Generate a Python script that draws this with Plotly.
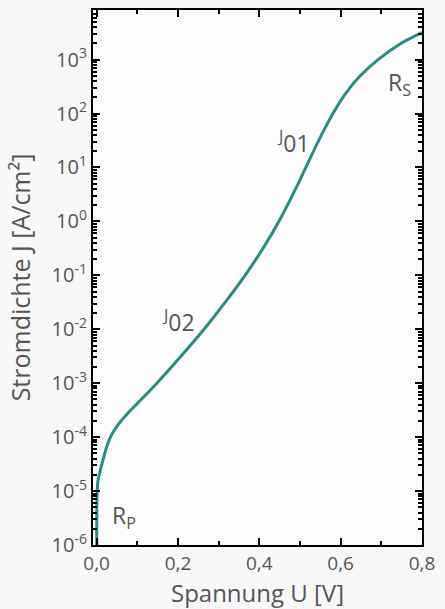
import plotly.graph_objects as go

# Curve (voltage V, log10 current density)
voltage = [0.0001, 0.0003, 0.0008, 0.003, 0.007, 0.011, 0.015, 0.023, 0.035, 0.048,
           0.060, 0.080, 0.102, 0.148, 0.212, 0.264, 0.320, 0.365, 0.414, 0.451,
           0.495, 0.515, 0.548, 0.581, 0.612, 0.647, 0.692, 0.746, 0.800]
log_j = [-6.0, -5.5, -5.1, -4.82, -4.68, -4.55, -4.44, -4.22, -3.98, -3.82,
         -3.70, -3.53, -3.36, -3.00, -2.46, -2.00, -1.46, -1.00, -0.44, 0.04,
         0.69, 1.01, 1.53, 2.00, 2.37, 2.69, 3.00, 3.29, 3.50]
current = [10 ** v for v in log_j]

x_ticks = [0.0, 0.2, 0.4, 0.6, 0.8]
x_tick_labels = ["0,0", "0,2", "0,4", "0,6", "0,8"]
x_minor = [0.1, 0.3, 0.5, 0.7]
y_exponents = [-6, -5, -4, -3, -2, -1, 0, 1, 2, 3]
y_ticks = [10.0 ** e for e in y_exponents]
y_tick_labels = ["10<sup>%d</sup>" % e for e in y_exponents]
y_minor = [m * 10.0 ** e for e in range(-6, 4) for m in range(2, 10)]

label_texts = ["<sup>J</sup>02", "<sup>J</sup>01", "R<sub>S</sub>", "R<sub>P</sub>"]
label_v = [0.202, 0.483, 0.744, 0.067]
label_logj = [-1.85, 1.48, 2.56, -5.47]

line_color = "#2a8c84"
grey = "#555555"
font_family = "Open Sans"

fig = go.Figure()
fig.add_trace(go.Scatter(x=voltage, y=current, mode="lines",
                         line=dict(color=line_color, width=3, shape="spline", smoothing=1.0),
                         showlegend=False))

for t, v, lj in zip(label_texts, label_v, label_logj):
    fig.add_annotation(text=t, x=v, y=lj, showarrow=False,
                       font=dict(size=23, color=grey, family=font_family))

axis_common = dict(showline=True, linecolor="black", linewidth=2, mirror="ticks",
                   ticks="inside", tickcolor="black", tickwidth=2, showgrid=False,
                   zeroline=False)

fig.update_xaxes(range=[-0.009, 0.8], tickvals=x_ticks, ticktext=x_tick_labels, ticklen=7,
                 tickfont=dict(size=19, color=grey, family=font_family),
                 minor=dict(tickvals=x_minor, ticks="inside", ticklen=4, tickcolor="black", tickwidth=2),
                 title=dict(text="Spannung U [V]", standoff=8,
                            font=dict(size=24, color=grey, family=font_family)),
                 **axis_common)
fig.update_yaxes(type="log", range=[-6, 3.92], tickvals=y_ticks, ticktext=y_tick_labels, ticklen=7,
                 tickfont=dict(size=20, color=grey, family=font_family),
                 minor=dict(tickvals=y_minor, ticks="inside", ticklen=4, tickcolor="black", tickwidth=1.5),
                 title=dict(text="Stromdichte J [A/cm²]", standoff=14,
                            font=dict(size=25, color=grey, family=font_family)),
                 **axis_common)

fig.update_layout(width=445, height=609, margin=dict(l=93, r=23, t=8, b=61),
                  paper_bgcolor="#f8f8f8", plot_bgcolor="#fcfcfc")

fig.write_html("out.html")
